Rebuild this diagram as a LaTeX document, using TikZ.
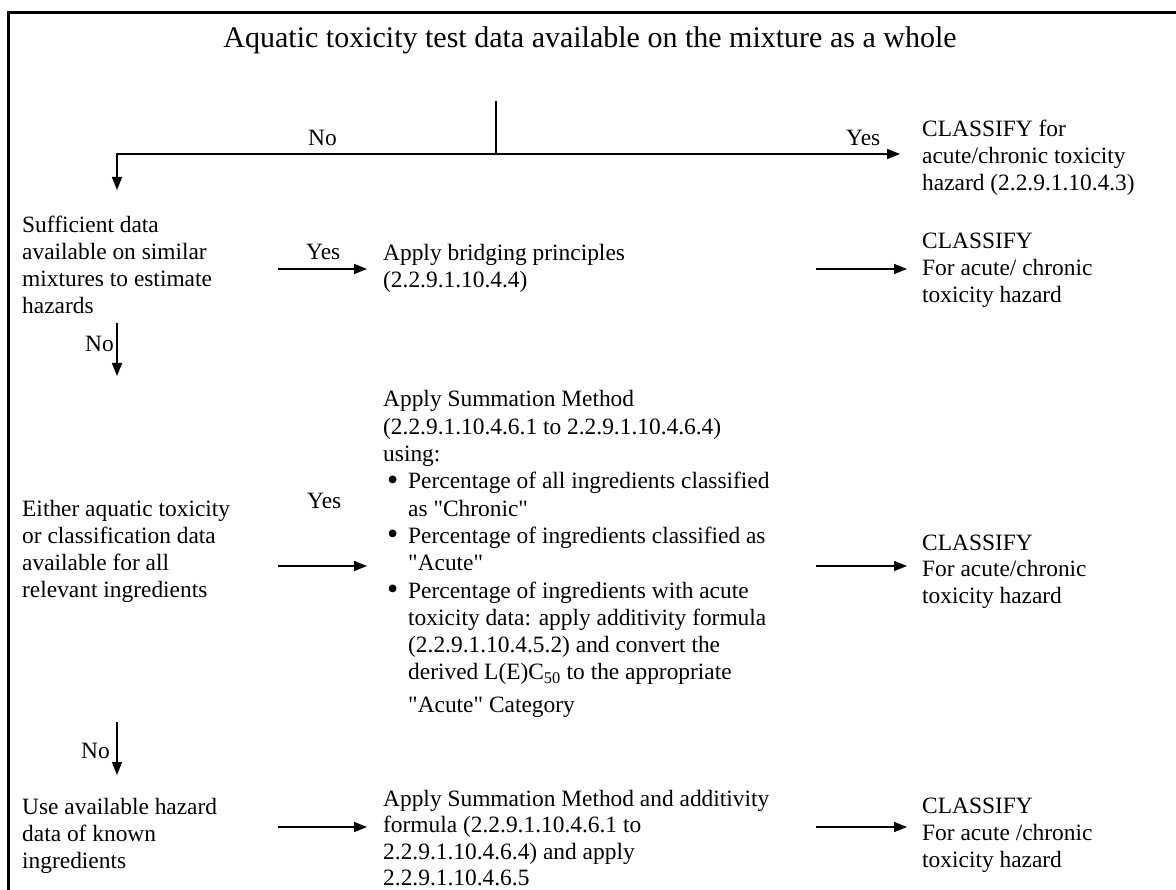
\documentclass[tikz,border=0pt]{standalone}
\usepackage{fontspec}
\setmainfont{Liberation Serif}
\usetikzlibrary{arrows.meta}
\newcommand{\lines}[1]{\begin{tabular}[t]{@{}l@{}}#1\end{tabular}}
\newcommand{\bul}{\makebox[25pt][l]{\hspace{4pt}\raisebox{-1.5pt}{\fontsize{32}{27}\selectfont\textbullet}}}
\newcommand{\ind}{\hspace*{25pt}}
\newcommand{\qq}{\textquotedbl}
\begin{document}
\begin{tikzpicture}[x=1pt,y=-1pt,
  txt/.style={anchor=base west, inner sep=0pt, font=\fontsize{23.4}{27}\selectfont},
  txtr/.style={anchor=base east, inner sep=0pt, font=\fontsize{23.4}{27}\selectfont},
  arr/.style={line width=1.5pt, -{Triangle[length=13pt,width=10pt]}},
  ln/.style={line width=1.5pt}]
\useasboundingbox (0,0) rectangle (1176,890);
\fill[white] (0,0) rectangle (1176,890);
\draw[line width=3pt] (8.5,890) -- (8.5,13) -- (1176,13);

% title
\node[anchor=base, inner sep=0pt, font=\fontsize{30}{34}\selectfont] (title) at (590,48)
  {Aquatic toxicity test data available on the mixture as a whole};

% top split
\coordinate (split) at (496,101);
\coordinate (junc) at (496,154);
\coordinate (cornerL) at (117,154);
\coordinate (d1end) at (117,190);
\coordinate (topend) at (900,154);
\draw[ln] (split) -- (junc);
\draw[arr] (junc) -- (topend);
\draw[arr] (junc) -- (cornerL) -- (d1end);
\node[txt] (no1) at (308,146) {No};
\node[txt] (yes1) at (846,146) {Yes};
\node[txt] (c1) at (922,137) {\lines{CLASSIFY for\\acute/chronic toxicity\\hazard (2.2.9.1.10.4.3)}};

% row 2
\node[txt] (q2) at (22,233) {\lines{Sufficient data\\available on similar\\mixtures to estimate\\hazards}};
\node[txt] (yes2) at (306,260) {Yes};
\coordinate (a2s) at (278,269);
\coordinate (a2e) at (367,269);
\draw[arr] (a2s) -- (a2e);
\node[txt] (m2) at (383,261) {\lines{Apply bridging principles\\(2.2.9.1.10.4.4)}};
\coordinate (b2s) at (816,269);
\coordinate (b2e) at (907,269);
\draw[arr] (b2s) -- (b2e);
\node[txt] (c2) at (922,249) {\lines{CLASSIFY\\For acute/ chronic\\toxicity hazard}};
\coordinate (d2s) at (117,323);
\coordinate (d2e) at (117,376);
\draw[arr] (d2s) -- (d2e);
\node[txtr] (no2) at (114,352) {No};

% row 3
\node[txt, font=\fontsize{23.4}{27.3}\selectfont] (m3) at (383,407) {\lines{Apply Summation Method\\(2.2.9.1.10.4.6.1 to 2.2.9.1.10.4.6.4)\\using:\\
  \bul Percentage of all ingredients classified\\
  \ind as \qq Chronic\qq\\
  \bul Percentage of ingredients classified as\\
  \ind \qq Acute\qq\\
  \bul Percentage of ingredients with acute\\
  \ind toxicity data: apply additivity formula\\
  \ind (2.2.9.1.10.4.5.2) and convert the\\
  \ind derived L(E)C\textsubscript{50} to the appropriate\\[5pt]
  \ind \qq Acute\qq{} Category}};
\node[txt] (q3) at (22,517) {\lines{Either aquatic toxicity\\or classification data\\available for all\\relevant ingredients}};
\node[txt] (yes3) at (307,508) {Yes};
\coordinate (a3s) at (278,566);
\coordinate (a3e) at (367,566);
\draw[arr] (a3s) -- (a3e);
\coordinate (b3s) at (816,566);
\coordinate (b3e) at (907,566);
\draw[arr] (b3s) -- (b3e);
\node[txt] (c3) at (922,550) {\lines{CLASSIFY\\For acute/chronic\\toxicity hazard}};
\coordinate (d3s) at (117,722);
\coordinate (d3e) at (117,775);
\draw[arr] (d3s) -- (d3e);
\node[txtr] (no3) at (110,758) {No};

% row 4
\node[txt] (q4) at (22,814) {\lines{Use available hazard\\data of known\\ingredients}};
\coordinate (a4s) at (278,827);
\coordinate (a4e) at (367,827);
\draw[arr] (a4s) -- (a4e);
\node[txt, font=\fontsize{23.4}{26.5}\selectfont] (m4) at (383,806) {\lines{Apply Summation Method and additivity\\formula (2.2.9.1.10.4.6.1 to\\2.2.9.1.10.4.6.4) and apply\\2.2.9.1.10.4.6.5}};
\coordinate (b4s) at (816,827);
\coordinate (b4e) at (907,827);
\draw[arr] (b4s) -- (b4e);
\node[txt] (c4) at (922,813) {\lines{CLASSIFY\\For acute /chronic\\toxicity hazard}};
\end{tikzpicture}
\end{document}
